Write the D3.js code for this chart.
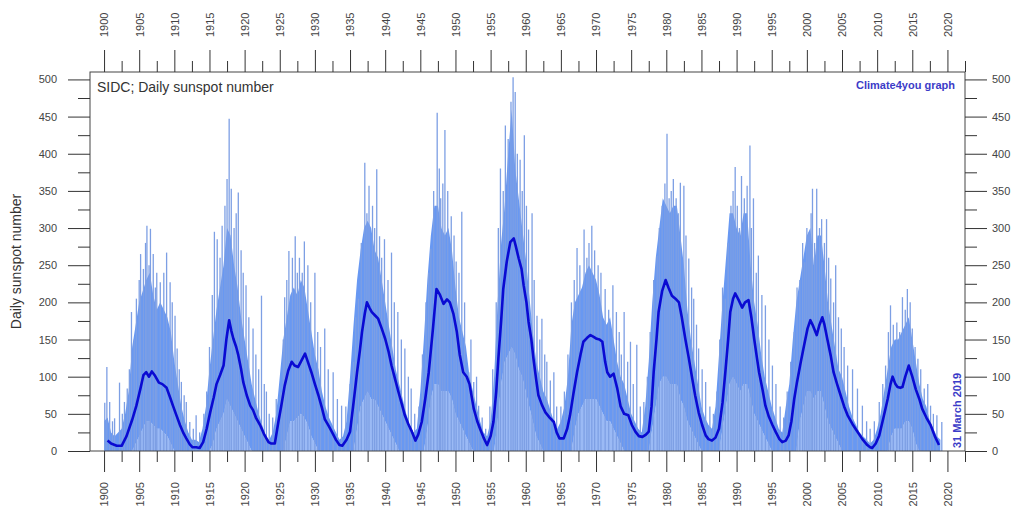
<!DOCTYPE html>
<html>
<head>
<meta charset="utf-8">
<script src="https://cdn.jsdelivr.net/npm/d3@7"></script>
<style>
  body { margin: 0; background: #fff; }
  svg { display: block; font-family: "Liberation Sans", Arial, sans-serif; }
</style>
</head>
<body>
<div class="myViz"></div>
<script>
// half-year grid of the dense daily cloud (start 1900.0, step 0.5)
var bodyStart = 1900, bodyStep = 0.5;
var bodyHigh = [
  40,45,25,20,25,30,50,80, 140,170,200,215,230,240,210,190,200,190,180,160,120,90,60,40,25,15,15,12,
  30,60,110,150,190,220,250,300,290,250,220,180,150,120,90,70,50,35,20,15,
  25,50,100,150,180,210,220,210,230,220,190,160,130,110,80,60,45,35,25,15,
  20,40,100,170,230,270,300,310,300,270,260,230,200,170,140,110,90,70,50,35,
  25,30,80,150,230,290,330,330,300,290,300,270,220,180,160,140,100,80,60,40,
  25,20,40,100,200,280,330,400,460,380,340,300,260,210,160,120,100,80,70,55,
  40,30,40,60,100,170,200,210,220,240,250,240,230,210,180,170,180,150,120,100,
  90,70,50,40,30,25,60,120,200,260,300,340,330,320,330,330,290,250,190,150,
  120,90,60,45,35,30,60,130,200,260,320,320,300,290,320,320,250,200,170,130,
  100,80,60,45,30,25,60,90,150,200,230,260,290,300,250,290,290,250,200,170,
  140,110,100,80,60,45,35,25,20,15,10,15,30,50,80,110,140,150,150,160,
  170,180,150,120,90,70,60,40,30,20,15
];
var bodyLow = [
  0,0,0,0,0,0,0,0, 0,10,20,30,40,40,35,30,30,25,20,10,0,0,0,0,0,0,0,0,
  0,0,0,10,30,40,50,70,60,50,40,30,20,10,0,0,0,0,0,0,
  0,0,0,0,20,40,40,45,50,45,35,20,10,0,0,0,0,0,0,0,
  0,0,0,0,30,60,70,80,70,70,60,50,40,30,20,10,0,0,0,0,
  0,0,0,0,30,70,90,90,80,80,80,70,50,40,30,20,10,0,0,0,
  0,0,0,0,40,90,120,130,140,130,110,100,80,60,40,20,10,0,0,0,
  0,0,0,0,0,0,30,50,60,70,70,70,70,60,50,40,40,30,20,10,
  0,0,0,0,0,0,0,0,30,60,90,100,100,90,90,90,70,60,40,30,
  20,10,0,0,0,0,0,0,30,60,90,100,90,80,90,90,70,50,40,30,
  20,10,0,0,0,0,0,0,0,0,40,60,80,80,70,80,80,60,40,30,
  20,10,0,0,0,0,0,0,0,0,0,0,0,0,0,0,20,30,30,30,
  40,40,30,10,0,0,0,0,0,0,0
];

// single tall daily values [year, sunspot number]
var spikes = [
  [1900.1,65],[1900.4,113],[1900.8,66],[1901.2,40],[1901.5,44],[1902.2,92],[1902.6,50],[1902.9,66],[1903.3,84],[1903.6,110],
  [1903.9,187],[1904.3,150],[1904.6,205],[1905.0,230],[1905.2,265],[1905.6,245],[1905.9,280],[1906.1,303],[1906.4,250],[1906.6,299],
  [1907.0,265],[1907.3,220],[1907.5,240],[1908.0,227],[1908.5,240],[1908.9,267],[1909.4,227],[1909.7,200],[1910.1,182],[1910.4,138],
  [1910.7,110],[1911.0,93],[1911.4,75],[1911.7,66],[1912.2,39],[1912.7,30],[1913.1,48],[1913.6,25],
  [1914.2,50],[1914.6,80],[1915.0,140],[1915.4,210],[1915.7,295],[1916.1,285],[1916.5,260],[1916.8,303],[1917.2,330],[1917.5,366],
  [1917.8,447],[1918.1,353],[1918.5,300],[1918.8,320],[1919.1,348],[1919.5,270],[1919.8,240],[1920.2,223],[1920.6,180],[1921.2,165],
  [1921.6,130],[1922.0,110],[1922.4,209],[1922.8,90],[1923.1,80],[1923.5,50],
  [1924.0,45],[1924.5,70],[1925.2,79],[1925.5,150],[1925.7,207],[1926.0,230],[1926.3,269],[1926.8,260],[1927.2,289],[1927.5,240],
  [1927.8,260],[1928.2,240],[1928.5,282],[1929.0,250],[1929.4,200],[1930.0,240],[1930.4,160],[1930.8,140],[1931.4,165],[1931.9,110],
  [1932.6,106],[1933.2,70],[1933.8,61],
  [1934.4,60],[1935.0,90],[1935.5,120],[1935.8,180],[1936.2,205],[1936.6,280],[1937.1,388],[1937.4,320],[1937.7,357],[1938.2,330],
  [1938.5,300],[1938.8,379],[1939.2,289],[1939.5,260],[1939.9,285],[1940.4,230],[1940.9,267],[1941.3,200],[1941.8,187],[1942.3,150],
  [1942.8,138],[1943.3,100],[1943.7,84],[1944.2,50],
  [1944.8,60],[1945.3,130],[1945.8,200],[1946.2,240],[1946.5,272],[1946.9,350],[1947.4,455],[1947.7,380],[1947.9,340],[1948.2,360],
  [1948.5,432],[1948.9,350],[1949.4,316],[1949.8,290],[1950.1,255],[1950.5,240],[1950.9,322],[1951.3,200],[1951.9,106],[1952.2,150],
  [1952.6,93],[1953.0,100],[1953.3,61],[1953.8,45],[1954.3,30],
  [1954.9,60],[1955.3,110],[1955.8,200],[1956.1,300],[1956.4,380],[1956.8,350],[1957.1,438],[1957.5,420],[1957.9,470],[1958.2,503],
  [1958.5,483],[1958.8,400],[1959.2,392],[1959.5,350],[1959.8,425],[1960.1,330],[1960.4,298],[1960.9,320],[1961.2,230],[1961.6,182],
  [1962.0,150],[1962.3,178],[1962.7,130],[1963.0,120],[1963.5,95],[1964.0,106],[1964.4,60],
  [1965.0,60],[1965.5,80],[1966.0,130],[1966.5,200],[1966.9,230],[1967.3,273],[1967.7,250],[1968.3,298],[1968.7,260],[1969.0,280],
  [1969.4,303],[1969.8,270],[1970.3,250],[1970.7,240],[1971.3,218],[1971.8,190],[1972.4,223],[1972.9,187],[1973.3,160],[1973.6,130],
  [1974.0,187],[1974.5,120],[1974.9,147],[1975.3,90],[1975.8,143],[1976.3,60],[1976.8,66],
  [1977.3,100],[1977.7,160],[1978.2,230],[1978.7,263],[1979.0,300],[1979.4,330],[1979.8,360],[1980.1,427],[1980.4,340],[1980.7,350],
  [1981.0,366],[1981.4,340],[1981.7,320],[1982.0,361],[1982.5,357],[1982.8,290],[1983.2,259],[1983.6,220],[1983.9,205],[1984.3,170],
  [1984.6,138],[1985.1,110],[1985.6,93],[1986.2,60],[1986.7,50],
  [1987.2,80],[1987.6,150],[1988.0,220],[1988.4,205],[1988.8,280],[1989.2,330],[1989.5,350],[1989.8,382],[1990.1,330],[1990.4,300],
  [1990.7,370],[1991.1,340],[1991.5,357],[1991.9,411],[1992.1,300],[1992.4,340],[1992.8,240],[1993.1,263],[1993.6,210],[1994.1,196],
  [1994.6,150],[1995.1,115],[1995.6,90],[1996.2,60],[1996.7,45],
  [1997.2,80],[1997.7,120],[1998.2,160],[1998.6,220],[1999.0,230],[1999.4,280],[1999.7,254],[2000.0,300],[2000.3,294],[2000.6,320],
  [2000.8,353],[2001.1,280],[2001.4,353],[2001.8,300],[2002.1,312],[2002.5,280],[2002.8,312],[2003.1,260],[2003.4,232],[2003.8,200],
  [2004.1,250],[2004.5,180],[2004.9,165],[2005.3,140],[2005.8,115],[2006.5,110],[2007.2,84],[2007.9,61],[2008.5,40],
  [2009.0,30],[2009.6,40],[2010.3,66],[2010.8,90],[2011.2,115],[2011.6,160],[2011.9,196],[2012.3,170],[2012.8,173],[2013.2,160],
  [2013.6,207],[2014.0,190],[2014.3,218],[2014.7,200],[2015.0,165],[2015.4,140],[2015.8,124],[2016.2,110],[2016.7,84],[2017.2,90],
  [2017.6,61],[2018.0,50],[2018.5,48],[2019.2,39]
];

// running mean (dark blue line)
var smoothYears = [
  1900.5,1901.0,1901.8,1902.5,1903.2,1904.0,1904.6,1905.2,1905.6,1906.0,1906.4,1906.8,1907.2,1907.8,1908.3,1908.9,1909.4,1909.8,1910.3,1910.8,
  1911.3,1911.7,1912.2,1912.6,1913.1,1913.6,1914.1,1914.6,1915.1,1915.6,1916.0,1916.5,1917.0,1917.4,1917.8,1918.1,1918.4,1918.8,1919.1,1919.5,
  1919.8,1920.3,1920.8,1921.2,1921.6,1922.2,1922.8,1923.4,1923.8,1924.3,1924.8,1925.2,1925.7,1926.2,1926.7,1927.1,1927.6,1928.1,1928.6,1929.0,
  1929.5,1930.0,1930.5,1931.0,1931.4,1932.0,1932.4,1933.0,1933.5,1933.9,1934.5,1935.0,1935.5,1936.0,1936.4,1936.7,1937.1,1937.4,1937.8,1938.1,
  1938.6,1939.0,1939.5,1940.0,1940.5,1940.9,1941.4,1941.9,1942.4,1942.8,1943.3,1943.8,1944.3,1944.7,1945.2,1945.7,1946.2,1946.8,1947.3,1947.8,
  1948.3,1948.8,1949.2,1949.7,1950.2,1950.6,1951.1,1951.6,1952.0,1952.6,1953.1,1953.5,1954.0,1954.5,1955.0,1955.4,1955.8,1956.1,1956.5,1956.8,
  1957.3,1957.8,1958.3,1958.6,1959.0,1959.4,1959.7,1960.1,1960.4,1960.8,1961.1,1961.5,1961.8,1962.3,1962.8,1963.4,1964.0,1964.4,1964.8,1965.4,
  1965.9,1966.3,1966.8,1967.3,1967.8,1968.2,1968.7,1969.2,1969.6,1970.1,1970.5,1970.9,1971.3,1971.6,1972.0,1972.5,1973.0,1973.5,1974.0,1974.6,
  1975.1,1975.6,1976.1,1976.6,1977.1,1977.5,1977.9,1978.2,1978.6,1978.9,1979.4,1979.9,1980.3,1980.8,1981.3,1981.8,1982.2,1982.7,1983.2,1983.7,
  1984.1,1984.6,1985.1,1985.6,1986.0,1986.5,1987.0,1987.5,1988.0,1988.4,1988.8,1989.1,1989.5,1989.8,1990.3,1990.8,1991.2,1991.7,1992.1,1992.5,
  1992.9,1993.2,1993.7,1994.1,1994.6,1995.1,1995.6,1996.1,1996.5,1997.0,1997.4,1997.8,1998.2,1998.6,1999.1,1999.6,2000.1,2000.5,2000.9,2001.4,
  2001.8,2002.2,2002.5,2002.9,2003.4,2003.8,2004.3,2004.8,2005.3,2005.8,2006.5,2007.2,2007.9,2008.6,2009.0,2009.3,2009.8,2010.3,2010.9,2011.5,
  2011.9,2012.2,2012.6,2012.9,2013.3,2013.6,2014.0,2014.5,2015.0,2015.5,2016.0,2016.4,2017.0,2017.6,2018.2,2018.8
];
var smoothValues = [
  14,10,7,7,20,42,61,85,102,106,100,107,102,92,90,85,72,61,48,35,
  24,17,9,5,5,4,12,30,52,72,90,102,115,150,176,162,151,140,129,110,
  93,75,61,55,45,35,22,12,10,10,39,60,88,108,120,115,113,122,131,120,
  106,90,75,58,43,33,26,15,8,7,15,26,65,106,135,160,185,200,192,187,
  182,178,165,151,133,115,97,79,62,48,36,26,14,22,39,70,106,165,218,210,
  198,204,200,185,160,130,106,100,90,57,40,30,18,8,20,39,80,124,175,218,
  255,281,286,275,259,245,223,200,174,150,124,95,75,62,52,45,39,25,17,17,
  30,48,78,106,130,147,152,156,154,151,150,147,120,106,100,104,85,60,50,48,
  35,26,20,19,22,26,60,106,150,187,215,230,220,209,205,200,180,151,125,97,
  75,52,35,21,16,14,18,30,65,106,150,187,205,212,203,193,200,203,180,151,
  125,106,82,61,46,35,25,16,12,14,21,40,70,93,118,142,165,176,168,156,
  170,180,170,151,128,106,90,75,60,48,36,26,16,8,5,4,10,21,45,70,
  90,100,90,86,85,86,100,115,100,83,70,57,45,35,20,8
];

var yearMajor = d3.range(1900, 2021, 5);
var yearMinor = d3.range(1902.5, 2023, 5);
var valueMajor = d3.range(0, 501, 50);
var valueMinor = d3.range(25, 500, 50);

var W = 1012, H = 510;
var plot = {left: 90, top: 72, right: 965, bottom: 451};

var svg = d3.select(".myViz").append("svg")
  .attr("width", W).attr("height", H);

var x = d3.scaleLinear().domain([1898, 2022.5]).range([plot.left, plot.right]);
var y = d3.scaleLinear().domain([0, 510]).range([plot.bottom, plot.top]);

svg.append("clipPath").attr("id", "clip")
  .append("rect")
  .attr("x", plot.left).attr("y", plot.top)
  .attr("width", plot.right - plot.left).attr("height", plot.bottom - plot.top);

var body = bodyHigh.map(function(h, i) {
  return {t: bodyStart + i * bodyStep, hi: h, lo: bodyLow[i]};
});

var g = svg.append("g").attr("clip-path", "url(#clip)");

// lower part of the cloud (mixed low days)
g.append("path")
  .datum(body)
  .attr("fill", "#9bbaf5")
  .attr("d", d3.area()
    .x(function(d) { return x(d.t); })
    .y0(y(0))
    .y1(function(d) { return y(d.lo); }));

// dense part of the cloud
g.append("path")
  .datum(body)
  .attr("fill", "#6898f2")
  .attr("d", d3.area()
    .x(function(d) { return x(d.t); })
    .y0(function(d) { return y(d.lo); })
    .y1(function(d) { return y(d.hi); }));

// individual daily spikes
g.selectAll(".spike")
  .data(spikes)
  .enter().append("line")
  .attr("class", "spike")
  .attr("x1", function(d) { return x(d[0]); })
  .attr("x2", function(d) { return x(d[0]); })
  .attr("y1", y(0))
  .attr("y2", function(d) { return y(d[1]); })
  .attr("stroke", "#7d9fe4")
  .attr("stroke-width", 1.3);

// smoothed line
g.append("path")
  .datum(smoothYears.map(function(t, i) { return [t, smoothValues[i]]; }))
  .attr("fill", "none")
  .attr("stroke", "#0a0ad2")
  .attr("stroke-width", 2.6)
  .attr("stroke-linejoin", "round")
  .attr("d", d3.line()
    .x(function(d) { return x(d[0]); })
    .y(function(d) { return y(d[1]); }));

// frame
svg.append("rect")
  .attr("x", plot.left).attr("y", plot.top)
  .attr("width", plot.right - plot.left).attr("height", plot.bottom - plot.top)
  .attr("fill", "none").attr("stroke", "#444").attr("stroke-width", 1);

function styleAxis(sel) {
  sel.select(".domain").remove();
  sel.selectAll("line").attr("stroke", "#333");
  sel.selectAll("text").attr("fill", "#444")
    .style("font-size", "11px")
    .style("font-family", "'Liberation Sans', Arial, sans-serif");
}

// bottom axis
svg.append("g").attr("transform", "translate(0," + plot.bottom + ")")
  .call(d3.axisBottom(x).tickValues(yearMinor).tickSize(11).tickFormat(""))
  .call(styleAxis);
svg.append("g").attr("transform", "translate(0," + plot.bottom + ")")
  .call(d3.axisBottom(x).tickValues(yearMajor).tickSize(21).tickFormat(d3.format("d")))
  .call(styleAxis)
  .selectAll("text")
    .attr("transform", "rotate(-90)")
    .attr("text-anchor", "end")
    .attr("x", -31).attr("y", 0).attr("dy", "0.35em");

// top axis
svg.append("g").attr("transform", "translate(0," + plot.top + ")")
  .call(d3.axisTop(x).tickValues(yearMinor).tickSize(11).tickFormat(""))
  .call(styleAxis);
svg.append("g").attr("transform", "translate(0," + plot.top + ")")
  .call(d3.axisTop(x).tickValues(yearMajor).tickSize(22).tickFormat(d3.format("d")))
  .call(styleAxis)
  .selectAll("text")
    .attr("transform", "rotate(-90)")
    .attr("text-anchor", "start")
    .attr("x", 35).attr("y", 0).attr("dy", "0.35em");

// left axis
svg.append("g").attr("transform", "translate(" + plot.left + ",0)")
  .call(d3.axisLeft(y).tickValues(valueMinor).tickSize(12).tickFormat(""))
  .call(styleAxis);
svg.append("g").attr("transform", "translate(" + plot.left + ",0)")
  .call(d3.axisLeft(y).tickValues(valueMajor).tickSize(22).tickPadding(11))
  .call(styleAxis);

// right axis (labels pulled in a little so they fit the page)
svg.append("g").attr("transform", "translate(" + plot.right + ",0)")
  .call(d3.axisRight(y).tickValues(valueMinor).tickSize(12).tickFormat(""))
  .call(styleAxis);
svg.append("g").attr("transform", "translate(" + plot.right + ",0)")
  .call(d3.axisRight(y).tickValues(valueMajor).tickSize(22).tickPadding(5))
  .call(styleAxis);

// texts
svg.append("text")
  .attr("transform", "translate(21," + ((plot.top + plot.bottom) / 2) + ") rotate(-90)")
  .attr("text-anchor", "middle")
  .attr("fill", "#333")
  .style("font-size", "14px")
  .text("Daily sunspot number");

svg.append("text")
  .attr("x", 97).attr("y", 92)
  .attr("fill", "#333")
  .style("font-size", "14px")
  .text("SIDC; Daily sunspot number");

svg.append("text")
  .attr("x", 955).attr("y", 89)
  .attr("text-anchor", "end")
  .attr("fill", "#3c3cc8")
  .style("font-size", "11px")
  .style("font-weight", "bold")
  .text("Climate4you graph");

svg.append("text")
  .attr("transform", "translate(961,448) rotate(-90)")
  .attr("fill", "#3c3cc8")
  .style("font-size", "11px")
  .style("font-weight", "bold")
  .text("31 March 2019");
</script>
</body>
</html>
